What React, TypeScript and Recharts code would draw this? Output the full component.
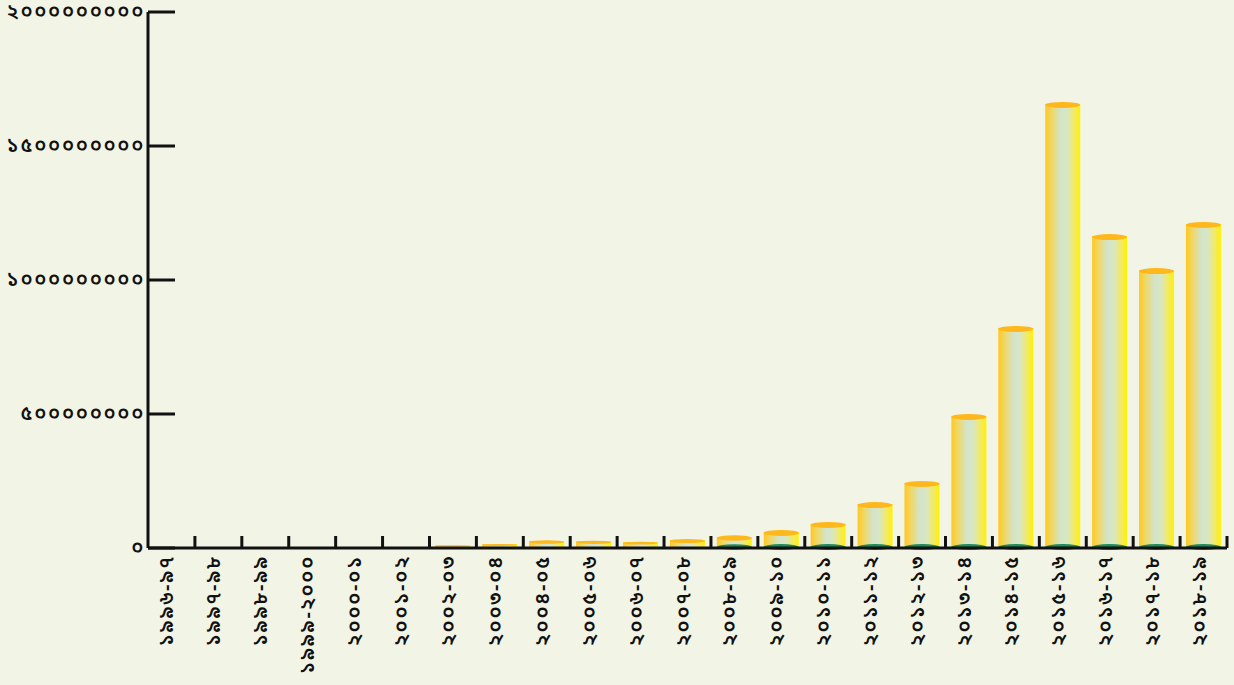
import React from 'react';
import { BarChart, Bar, XAxis, YAxis } from 'recharts';

// financial years, Bengali numerals as in the source
const years = [
  '১৯৯৬-৯৭', '১৯৯৭-৯৮', '১৯৯৮-৯৯', '১৯৯৯-২০০০', '২০০০-০১', '২০০১-০২',
  '২০০২-০৩', '২০০৩-০৪', '২০০৪-০৫', '২০০৫-০৬', '২০০৬-০৭', '২০০৭-০৮',
  '২০০৮-০৯', '২০০৯-১০', '২০১০-১১', '২০১১-১২', '২০১২-১৩', '২০১৩-১৪',
  '২০১৪-১৫', '২০১৫-১৬', '২০১৬-১৭', '২০১৭-১৮', '২০১৮-১৯',
];

const amounts = [
  0, 0, 0, 0, 0, 0,
  11000000, 15000000, 26000000, 25000000, 22000000, 30000000,
  41000000, 60000000, 90000000, 164000000, 243000000, 493000000,
  821000000, 1657000000, 1164000000, 1037000000, 1209000000,
];

const yTicks = [0, 500000000, 1000000000, 1500000000, 2000000000];
const yTickLabels = ['০', '৫০০০০০০০০', '১০০০০০০০০০', '১৫০০০০০০০০', '২০০০০০০০০০'];

const W = 1234;
const H = 685;
const LEFT = 148;
const RIGHT = 1227;
const TOP = 12;
const BOTTOM = 548;
const BAND = (RIGHT - LEFT) / years.length;

const FONT = '"Noto Sans Bengali", "Lohit Bengali", "Noto Sans", "DejaVu Sans", sans-serif';

const data = years.map((y, i) => ({ year: y, amount: amounts[i] }));

function CylinderBar(props: any) {
  const { x, y, width, height } = props;
  if (!height || height <= 0) return null;
  const ry = Math.min(3, height / 4);
  return (
    <g>
      <rect x={x} y={y} width={width} height={height} fill="url(#cyl)" />
      {height > 10 && (
        <ellipse cx={x + width / 2} cy={y + height - 1} rx={width / 2} ry={ry} fill="#1f8a5a" />
      )}
      <ellipse cx={x + width / 2} cy={y + 1} rx={width / 2} ry={ry} fill="#ffb81c" />
    </g>
  );
}

function YTick(props: any) {
  const { y, payload } = props;
  const idx = yTicks.indexOf(payload.value);
  return (
    <g>
      <line x1={LEFT} x2={LEFT + 27} y1={y} y2={y} stroke="#111" strokeWidth={3} />
      <text
        x={LEFT - 3}
        y={y + 1}
        textAnchor="end"
        dominantBaseline="central"
        fontFamily={FONT}
        fontSize={20}
        letterSpacing={1.8}
        fontWeight={600}
        fill="#111"
      >
        {yTickLabels[idx]}
      </text>
    </g>
  );
}

function XTick(props: any) {
  const { x, payload } = props;
  const edge = x + BAND / 2;
  const tx = x + 2;
  const ty = BOTTOM + 7;
  return (
    <g>
      <line x1={edge} x2={edge} y1={BOTTOM} y2={BOTTOM - 12} stroke="#111" strokeWidth={3} />
      <text
        x={tx}
        y={ty}
        transform={`rotate(-90, ${tx}, ${ty})`}
        textAnchor="end"
        fontFamily={FONT}
        fontSize={20}
        letterSpacing={1.8}
        fontWeight={600}
        fill="#111"
      >
        {payload.value}
      </text>
    </g>
  );
}

export default function App() {
  return (
    <div style={{ position: 'fixed', left: 0, top: 0, width: W, height: H, background: '#f2f5e6' }}>
      <BarChart
        width={W}
        height={H}
        data={data}
        margin={{ top: TOP, right: W - RIGHT, left: 0, bottom: 0 }}
        barCategoryGap="12.5%"
      >
        <defs>
          <linearGradient id="cyl" x1="0" y1="0" x2="1" y2="0">
            <stop offset="0%" stopColor="#ffc81e" />
            <stop offset="18%" stopColor="#f0d765" />
            <stop offset="45%" stopColor="#d2e4cc" />
            <stop offset="62%" stopColor="#d8e6c2" />
            <stop offset="85%" stopColor="#f5ea5a" />
            <stop offset="100%" stopColor="#fff200" />
          </linearGradient>
        </defs>
        <XAxis
          dataKey="year"
          interval={0}
          height={H - BOTTOM}
          tickLine={false}
          axisLine={{ stroke: '#111', strokeWidth: 3 }}
          tick={<XTick />}
        />
        <YAxis
          width={LEFT}
          domain={[0, 2000000000]}
          ticks={yTicks}
          tickLine={false}
          axisLine={{ stroke: '#111', strokeWidth: 3 }}
          tick={<YTick />}
        />
        <Bar dataKey="amount" shape={<CylinderBar />} isAnimationActive={false} />
      </BarChart>
    </div>
  );
}
